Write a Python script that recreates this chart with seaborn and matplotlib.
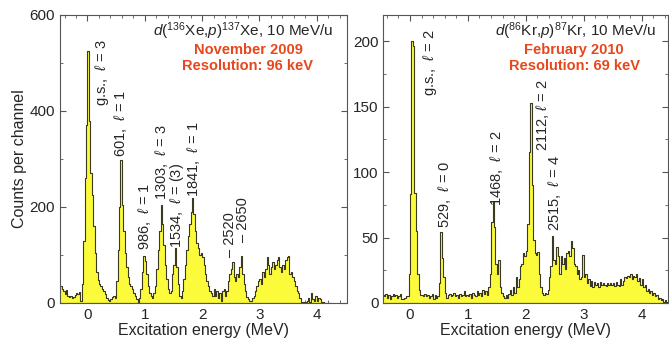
import numpy as np
import pandas as pd
import matplotlib
matplotlib.use("Agg")
import matplotlib.pyplot as plt
from matplotlib.ticker import MultipleLocator
import seaborn as sns

# -----------------------------
# Data: counts per 25 keV channel
# -----------------------------
bin_width = 0.025

xe_start = -0.5
xe_counts = [
    22, 35, 30, 25, 18, 28, 14, 12, 15, 10, 13, 16, 20, 18, 22, 4, 40, 130, 260, 370,
    525, 380, 270, 225, 160, 105, 65, 48, 40, 35, 30, 25, 18, 10, 6, 4, 8, 12, 15, 10,
    45, 110, 200, 297, 205, 150, 105, 75, 55, 40, 35, 30, 20, 15, 8, 0, 10, 30, 65, 97,
    88, 60, 35, 20, 15, 10, 20, 35, 70, 110, 150, 205, 165, 120, 80, 50, 30, 20, 25, 60,
    80, 115, 75, 40, 15, 10, 25, 50, 80, 110, 140, 165, 190, 218, 185, 150, 125, 115, 100, 105,
    95, 80, 60, 45, 35, 25, 20, 15, 30, 15, 25, 10, 20, 5, 25, 30, 15, 25, 45, 60,
    70, 85, 55, 45, 60, 55, 75, 97, 60, 40, 25, 12, 8, 5, 5, 10, 15, 25, 35, 45,
    50, 40, 65, 55, 70, 95, 80, 60, 75, 85, 70, 80, 90, 95, 75, 65, 80, 70, 90, 95,
    97, 60, 65, 55, 45, 35, 25, 20, 10, 3, 2, 0, 2, 5, 10, 3, 20, 8, 4, 15,
    5, 10, 8, 3, 2, 0, 0, 0, 0, 0,
]

kr_start = -0.5
kr_counts = [
    4, 6, 5, 7, 4, 6, 3, 5, 7, 5, 6, 4, 5, 7, 3, 3, 4, 5, 5, 22,
    83, 200, 196, 84, 55, 22, 10, 6, 6, 5, 7, 5, 6, 4, 5, 7, 3, 6, 4, 5,
    15, 54, 34, 20, 8, 4, 6, 7, 5, 6, 8, 5, 6, 4, 7, 5, 6, 9, 5, 6,
    5, 7, 4, 8, 6, 5, 9, 6, 8, 5, 10, 7, 9, 6, 12, 22, 62, 77, 58, 30,
    22, 33, 12, 8, 5, 4, 6, 4, 7, 10, 6, 12, 8, 20, 12, 18, 28, 30, 38, 36,
    40, 60, 115, 153, 90, 48, 38, 37, 39, 22, 12, 8, 6, 8, 7, 10, 20, 28, 51, 33,
    30, 43, 36, 22, 36, 30, 34, 26, 38, 40, 36, 47, 42, 30, 28, 22, 25, 18, 20, 37,
    20, 22, 15, 18, 13, 17, 12, 16, 14, 15, 12, 16, 14, 15, 14, 13, 15, 14, 15, 14,
    15, 13, 16, 14, 13, 18, 14, 17, 20, 19, 21, 20, 22, 18, 21, 20, 22, 17, 19, 14,
    18, 12, 14, 9, 11, 8, 9, 6, 8, 5, 6, 3, 4, 2, 3, 1, 2, 1, 0, 0,
]

xe_labels = ["g.s.,  $\\ell$ = 3", "601,  $\\ell$ = 1", "986,  $\\ell$ = 1",
             "1303,  $\\ell$ = 3", "1534,  $\\ell$ = (3)", "1841,  $\\ell$ = 1",
             "\u2013 2520", "\u2013 2650"]
xe_label_x = [0.25, 0.58, 1.0, 1.30, 1.555, 1.855, 2.49, 2.71]
xe_label_y = [410, 304, 110, 214, 114, 221, 96, 127]

kr_labels = ["g.s.,  $\\ell$ = 2", "529,  $\\ell$ = 0", "1468,  $\\ell$ = 2",
             "2112, $\\ell$ = 2", "2515,  $\\ell$ = 4"]
kr_label_x = [0.34, 0.60, 1.486, 2.29, 2.50]
kr_label_y = [158, 57, 74, 116, 55]

# -----------------------------
# Style
# -----------------------------
sns.set_style("ticks")
plt.rcParams["font.family"] = ["Liberation Sans", "DejaVu Sans"]
plt.rcParams["mathtext.fontset"] = "custom"
plt.rcParams["mathtext.rm"] = "Liberation Sans"
plt.rcParams["mathtext.it"] = "Liberation Sans:italic"
plt.rcParams["font.size"] = 10.5

fill_col = "#fbfb3c"
edge_col = "#3c3a1e"
red_col = "#e8471c"


def make_frame(start, counts):
    n = len(counts)
    centers = start + bin_width * (np.arange(n) + 0.5)
    return pd.DataFrame({"energy": centers, "counts": counts}), (start, start + bin_width * n)


def draw_panel(ax, start, counts, xlim, ymax, ymaj, ymin_step):
    df, brange = make_frame(start, counts)
    sns.histplot(data=df, x="energy", weights="counts", binwidth=bin_width,
                 binrange=brange, element="step", fill=True, color=fill_col,
                 alpha=1, edgecolor=edge_col, linewidth=0.8, ax=ax)
    ax.set_xlim(*xlim)
    ax.set_ylim(0, ymax)
    ax.xaxis.set_major_locator(MultipleLocator(1))
    ax.xaxis.set_minor_locator(MultipleLocator(0.2))
    ax.yaxis.set_major_locator(MultipleLocator(ymaj))
    ax.yaxis.set_minor_locator(MultipleLocator(ymin_step))
    ax.tick_params(which="both", direction="in", top=True, right=True,
                   labelsize=11, color="#555555")
    ax.tick_params(which="major", length=4)
    ax.tick_params(which="minor", length=2.5)
    for s in ax.spines.values():
        s.set_linewidth(0.8)
        s.set_color("#555555")
    ax.set_xlabel("Excitation energy (MeV)", fontsize=11.5, labelpad=1)
    ax.set_ylabel("")


fig = plt.figure(figsize=(6.69, 3.42), dpi=100)
ax1 = fig.add_axes([60 / 669, 39 / 342, 287 / 669, 288 / 342])
ax2 = fig.add_axes([383.3 / 669, 39 / 342, 284.5 / 669, 288 / 342])

draw_panel(ax1, xe_start, xe_counts, (-0.48, 4.53), 600, 200, 100)
draw_panel(ax2, kr_start, kr_counts, (-0.46, 4.45), 220, 50, 25)
ax1.set_ylabel("Counts per channel", fontsize=11.5, labelpad=2)

for t, x, y in zip(xe_labels, xe_label_x, xe_label_y):
    ax1.text(x, y, t, rotation=90, ha="center", va="bottom", fontsize=10.5)
for t, x, y in zip(kr_labels, kr_label_x, kr_label_y):
    ax2.text(x, y, t, rotation=90, ha="center", va="bottom", fontsize=10.5)

ax1.text(0.952, 0.945, "$d$($^{136}$Xe,$p$)$^{137}$Xe, 10 MeV/u",
         transform=ax1.transAxes, ha="right", va="center", fontsize=11)
ax1.text(0.655, 0.879, "November 2009", transform=ax1.transAxes,
         ha="center", va="center", fontsize=10.5, fontweight="bold", color=red_col)
ax1.text(0.655, 0.823, "Resolution: 96 keV", transform=ax1.transAxes,
         ha="center", va="center", fontsize=10.5, fontweight="bold", color=red_col)

ax2.text(0.961, 0.945, "$d$($^{86}$Kr,$p$)$^{87}$Kr, 10 MeV/u",
         transform=ax2.transAxes, ha="right", va="center", fontsize=11)
ax2.text(0.671, 0.879, "February 2010", transform=ax2.transAxes,
         ha="center", va="center", fontsize=10.5, fontweight="bold", color=red_col)
ax2.text(0.671, 0.823, "Resolution: 69 keV", transform=ax2.transAxes,
         ha="center", va="center", fontsize=10.5, fontweight="bold", color=red_col)

fig.savefig("out.png", dpi=100)
